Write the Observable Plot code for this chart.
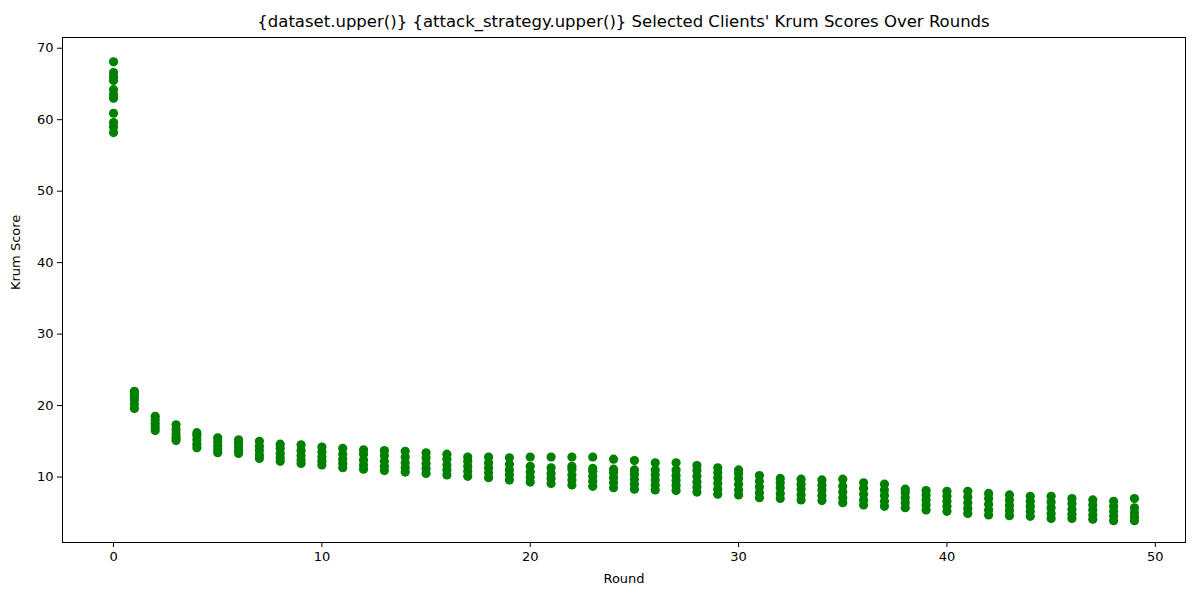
<!DOCTYPE html>
<html>
<head>
<meta charset="utf-8">
<script src="https://cdn.jsdelivr.net/npm/d3@7"></script>
<script src="https://cdn.jsdelivr.net/npm/@observablehq/plot@0.6"></script>
<style>
  body { margin: 0; background: #fff; font-family: "DejaVu Sans", sans-serif; }
  #title { height: 30px; line-height: 44px; text-align: center; font-size: 16.5px; padding-left: 47px; box-sizing: border-box; }
</style>
</head>
<body>
<div id="title">{dataset.upper()} {attack_strategy.upper()} Selected Clients' Krum Scores Over Rounds</div>
<div id="chart"></div>
<script>
// Krum scores of the selected clients, one list per round
var scoresByRound = [
  [58.2, 59, 59.6, 60.9, 63, 63.5, 64.2, 65.5, 66, 66.6, 68.1],
  [19.6, 20.2, 20.8, 21.3, 21.7, 22],
  [16.5, 17, 17.5, 18, 18.5],
  [15.1, 15.5, 16, 16.6, 17.3],
  [14.1, 14.6, 15.2, 15.8, 16.2],
  [13.4, 13.9, 14.4, 15, 15.5],
  [13.3, 13.7, 14.2, 14.8, 15.2],
  [12.6, 13.1, 13.7, 14.3, 15],
  [12.2, 12.7, 13.3, 14, 14.6],
  [11.9, 12.4, 13, 13.7, 14.5],
  [11.7, 12.2, 12.8, 13.5, 14.2],
  [11.3, 11.9, 12.5, 13.2, 14],
  [11.1, 11.7, 12.4, 13.2, 13.8],
  [10.9, 11.5, 12.2, 13, 13.7],
  [10.7, 11.3, 12, 12.8, 13.6],
  [10.5, 11.2, 11.9, 12.7, 13.4],
  [10.3, 11, 11.7, 12.5, 13.2],
  [10.1, 10.8, 11.5, 12.2, 12.8],
  [9.9, 10.6, 11.3, 12, 12.8],
  [9.6, 10.3, 11, 11.8, 12.7],
  [9.3, 10, 10.7, 11.5, 12.8],
  [9.1, 9.8, 10.5, 11.3, 12.8],
  [8.9, 9.6, 10.3, 11.1, 11.5, 12.8],
  [8.7, 9.4, 10.1, 10.8, 11.2, 12.8],
  [8.5, 9.2, 9.9, 10.6, 11.1, 12.5],
  [8.3, 9, 9.7, 10.4, 11, 12.3],
  [8.2, 8.9, 9.6, 10.3, 11, 12],
  [8.1, 8.8, 9.5, 10.2, 11, 12],
  [7.9, 8.6, 9.3, 10.1, 10.9, 11.6],
  [7.6, 8.3, 9.1, 9.9, 10.6, 11.3],
  [7.5, 8.2, 9, 9.8, 10.5, 11],
  [7.1, 7.8, 8.6, 9.4, 10.2],
  [7, 7.7, 8.5, 9.2, 9.8],
  [6.8, 7.5, 8.3, 9, 9.7],
  [6.7, 7.4, 8.2, 8.9, 9.6],
  [6.4, 7.1, 7.9, 8.7, 9.7],
  [6.1, 6.8, 7.6, 8.4, 9.2],
  [5.9, 6.6, 7.4, 8.2, 9],
  [5.7, 6.4, 7.1, 7.8, 8.3],
  [5.4, 6.1, 6.8, 7.5, 8.1],
  [5.2, 5.9, 6.6, 7.3, 8],
  [4.9, 5.6, 6.4, 7.2, 8],
  [4.7, 5.4, 6.2, 7, 7.7],
  [4.6, 5.3, 6, 6.8, 7.5],
  [4.5, 5.2, 5.9, 6.6, 7.3],
  [4.2, 4.9, 5.7, 6.5, 7.3],
  [4.2, 4.8, 5.5, 6.3, 7],
  [4.1, 4.7, 5.4, 6.1, 6.8],
  [3.9, 4.5, 5.2, 5.9, 6.6],
  [3.9, 4.4, 5, 5.7, 7]
];
var xTicks = [0, 10, 20, 30, 40, 50];
var yTicks = [10, 20, 30, 40, 50, 60, 70];

var points = [];
scoresByRound.forEach(function(list, round) {
  list.forEach(function(s) { points.push({round: round, score: s}); });
});

var plot = Plot.plot({
  width: 1200,
  height: 570,
  marginLeft: 62,
  marginRight: 15,
  marginTop: 7,
  marginBottom: 58,
  style: {fontFamily: "DejaVu Sans, sans-serif", fontSize: "13px", color: "#000"},
  x: {domain: [-2.45, 51.45], ticks: xTicks, tickSize: 5, tickPadding: 4, label: null},
  y: {domain: [0.84, 71.5], ticks: yTicks, tickSize: 5, tickPadding: 4, label: null},
  marks: [
    Plot.dot(points, {x: "round", y: "score", r: 4.6, fill: "#008000", stroke: null}),
    Plot.frame({stroke: "#000", strokeWidth: 1}),
    Plot.axisX({ticks: xTicks, tickSize: 5, tickPadding: 4, label: null}),
    Plot.axisY({ticks: yTicks, tickSize: 5, tickPadding: 4, label: null}),
    Plot.text(["Round"], {frameAnchor: "bottom", dy: 40, fontSize: 13}),
    Plot.text(["Krum Score"], {frameAnchor: "left", dx: -47, rotate: -90, fontSize: 13})
  ]
});
document.getElementById("chart").appendChild(plot);
</script>
</body>
</html>
